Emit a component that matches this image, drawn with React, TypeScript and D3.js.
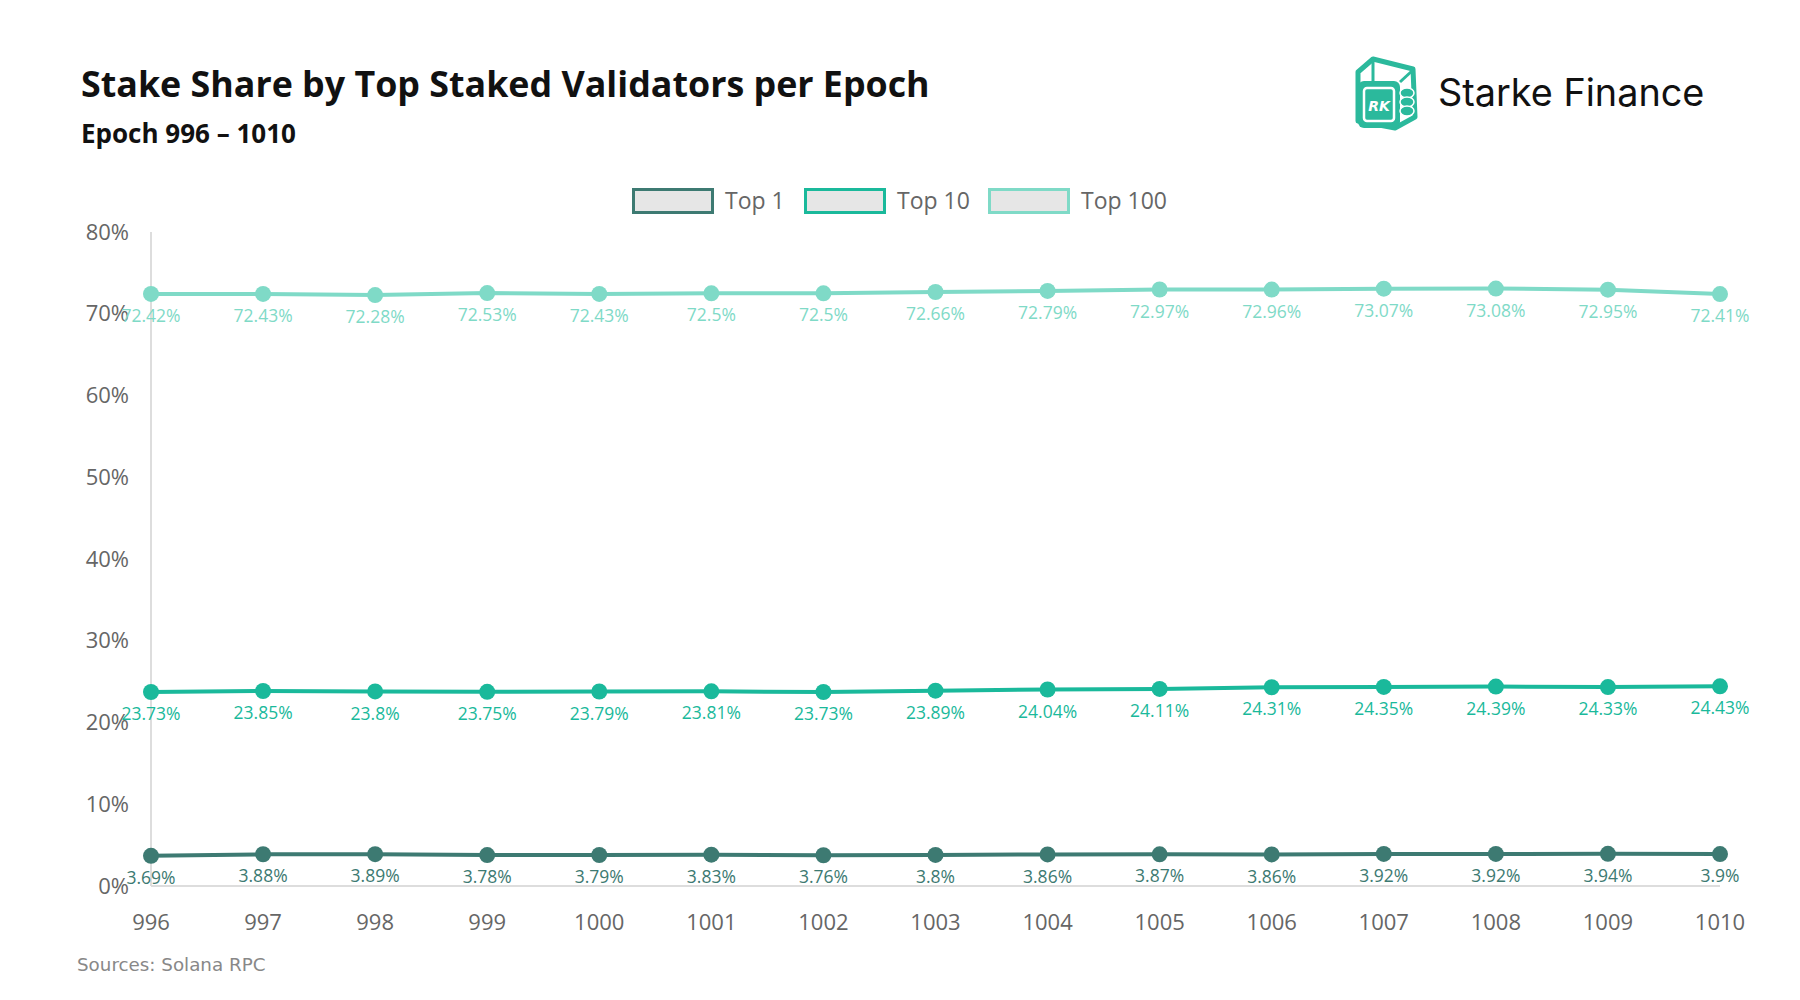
import * as d3 from "d3";

const epochs = [
  "996", "997", "998", "999", "1000", "1001", "1002", "1003",
  "1004", "1005", "1006", "1007", "1008", "1009", "1010",
];
const top1 = [3.69, 3.88, 3.89, 3.78, 3.79, 3.83, 3.76, 3.8, 3.86, 3.87, 3.86, 3.92, 3.92, 3.94, 3.9];
const top10 = [23.73, 23.85, 23.8, 23.75, 23.79, 23.81, 23.73, 23.89, 24.04, 24.11, 24.31, 24.35, 24.39, 24.33, 24.43];
const top100 = [72.42, 72.43, 72.28, 72.53, 72.43, 72.5, 72.5, 72.66, 72.79, 72.97, 72.96, 73.07, 73.08, 72.95, 72.41];
const seriesNames = ["Top 1", "Top 10", "Top 100"];
const yTicks = [0, 10, 20, 30, 40, 50, 60, 70, 80];

const COLORS = ["#3d7a72", "#1ab99b", "#7fdac7"];
const W = 1800;
const H = 1000;
const MARGIN = { top: 232, right: 80, bottom: 114, left: 151 };

const LABEL_FONT = "'Open Sans', 'Noto Sans', sans-serif";

const Logo = () => {
  const teal = "#2bb99c";
  return (
    <g>
      <g transform="translate(1355,57)">
        <path d="M3,15 L18,2 L58,12 L60,60 L40,71 L3,64 Z" fill="none" stroke={teal} strokeWidth={5} strokeLinejoin="round" />
        <line x1={18} y1={2} x2={18} y2={24} stroke={teal} strokeWidth={3} />
        <line x1={45} y1={25} x2={58} y2={13} stroke={teal} strokeWidth={3} />
        <rect x={3} y={24} width={42} height={47} rx={6} fill={teal} />
        <rect x={9} y={31} width={30} height={33} rx={3} fill="none" stroke="#fff" strokeWidth={2.5} />
        <text x={24} y={54} textAnchor="middle" fill="#fff" fontFamily="'DejaVu Sans', sans-serif" fontWeight={700} fontSize={14} fontStyle="italic">RK</text>
        {[36, 45, 54].map((cy) => (
          <ellipse key={cy} cx={52} cy={cy} rx={7} ry={5} fill={teal} stroke="#fff" strokeWidth={1.5} />
        ))}
      </g>
      <text x={1438} y={106} fontFamily="Inter, 'Open Sans', sans-serif" fontSize={37.8} fill="#111">Starke Finance</text>
    </g>
  );
};

export default function App() {
  const boundsW = W - MARGIN.left - MARGIN.right;
  const boundsH = H - MARGIN.top - MARGIN.bottom;

  const xScale = d3.scalePoint<string>().domain(epochs).range([0, boundsW]);
  const yScale = d3.scaleLinear().domain([0, 80]).range([boundsH, 0]);

  const allSeries = [top1, top10, top100];

  const line = d3
    .line<number>()
    .x((_, i) => xScale(epochs[i]) ?? 0)
    .y((d) => yScale(d));

  // legend layout
  const legendX = [632, 804, 988];

  return (
    <svg width={W} height={H} style={{ position: "absolute", left: 0, top: 0, background: "#fff" }}>
      <text x={81} y={97} fontFamily="'Open Sans', sans-serif" fontWeight={700} fontSize={35.8} fill="#111">
        Stake Share by Top Staked Validators per Epoch
      </text>
      <text x={81} y={143} fontFamily="'Open Sans', sans-serif" fontWeight={700} fontSize={26} fill="#111">
        Epoch 996 – 1010
      </text>
      <Logo />

      {/* legend */}
      {seriesNames.map((name, i) => (
        <g key={name} transform={`translate(${legendX[i]},188)`}>
          <rect x={1.5} y={1.5} width={79} height={23} fill="#e6e6e6" stroke={COLORS[i]} strokeWidth={3} />
          <text x={93} y={21} fontFamily={LABEL_FONT} fontSize={23} fill="#666">{name}</text>
        </g>
      ))}

      <g transform={`translate(${MARGIN.left},${MARGIN.top})`}>
        {/* axes */}
        <line x1={0} x2={0} y1={0} y2={boundsH} stroke="#dddddd" strokeWidth={2} />
        <line x1={0} x2={boundsW} y1={boundsH} y2={boundsH} stroke="#dddddd" strokeWidth={2} />
        {yTicks.map((t) => (
          <text key={t} x={-22} y={yScale(t)} dy="0.35em" textAnchor="end" fontFamily={LABEL_FONT} fontSize={22} fill="#666">
            {t}%
          </text>
        ))}
        {epochs.map((e) => (
          <text key={e} x={xScale(e)} y={boundsH + 36} dy="0.35em" textAnchor="middle" fontFamily={LABEL_FONT} fontSize={22} fill="#666">
            {e}
          </text>
        ))}

        {/* series */}
        {allSeries.map((s, si) => (
          <g key={seriesNames[si]}>
            <path d={line(s) ?? ""} fill="none" stroke={COLORS[si]} strokeWidth={4} />
            {s.map((v, i) => (
              <circle key={i} cx={xScale(epochs[i])} cy={yScale(v)} r={8} fill={COLORS[si]} />
            ))}
            {s.map((v, i) => (
              <text key={`l${i}`} x={xScale(epochs[i])} y={yScale(v) + 22} dy="0.35em" textAnchor="middle" fontFamily={LABEL_FONT} fontSize={17.5} fill={COLORS[si]}>
                {`${v}%`}
              </text>
            ))}
          </g>
        ))}
      </g>

      <text x={77} y={965} dy="0.35em" fontFamily="'DejaVu Sans', sans-serif" fontSize={18.3} fill="#888">
        Sources: Solana RPC
      </text>
    </svg>
  );
}
